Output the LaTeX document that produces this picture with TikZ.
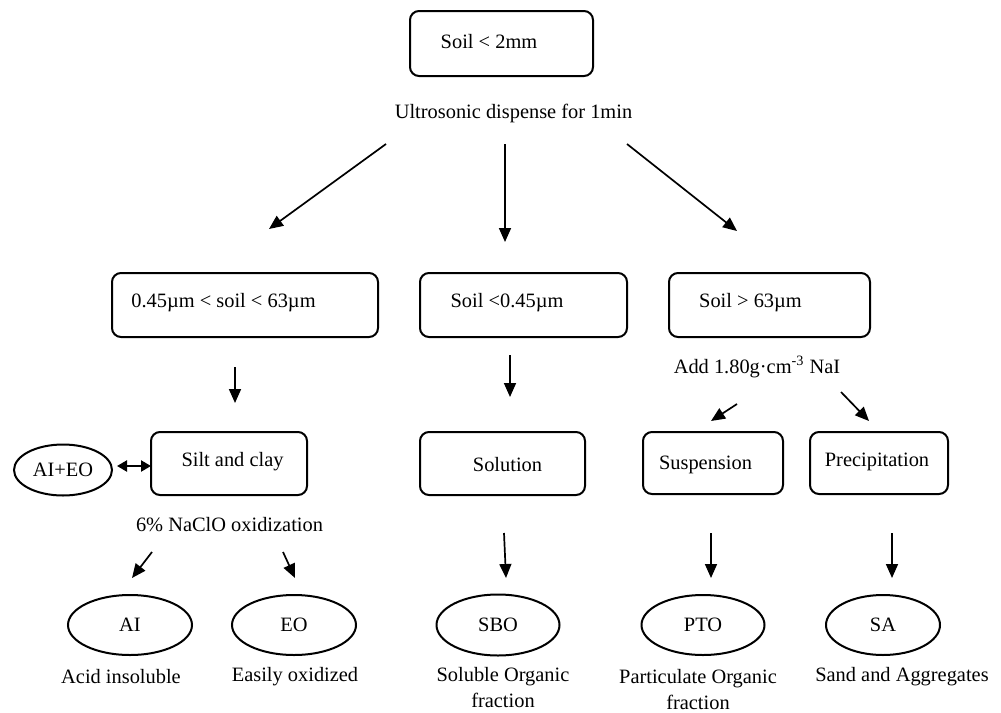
\documentclass[tikz,border=0pt]{standalone}
\usepackage{fontspec}
\setmainfont{Liberation Serif}
\usetikzlibrary{arrows.meta,shapes.geometric}
\begin{document}
\begin{tikzpicture}[x=0.5pt,y=-0.5pt,
  every node/.style={font=\fontsize{10.2}{13}\selectfont},
  box/.style={draw,line width=1pt,rounded corners=4.5pt,inner sep=0pt},
  oval/.style={draw,ellipse,line width=1pt,inner sep=0pt},
  txt/.style={inner sep=0pt,align=center},
  arr/.style={line width=0.85pt,-{Triangle[length=7pt,width=6pt]}},
  dbl/.style={line width=1.1pt,{Triangle[length=5pt,width=5.5pt]}-{Triangle[length=5pt,width=5.5pt]}}]
\useasboundingbox (0,0) rectangle (1001,712);
% boxes
\node[box,minimum width=91.5pt,minimum height=32.5pt] (top) at (501.5,43.5) {};
\node[txt] (topt) at (489,42) {Soil < 2mm};
\node[txt] (ultro) at (513.5,113) {Ultrosonic dispense for 1min};
\node[box,minimum width=133pt,minimum height=32pt] (mid) at (245,305) {};
\node[txt] (midt) at (223.5,303) {0.45µm < soil < 63µm};
\node[box,minimum width=103.5pt,minimum height=32pt] (fine) at (523.5,305) {};
\node[txt] (finet) at (507,303) {Soil <0.45µm};
\node[box,minimum width=100.5pt,minimum height=32pt] (coarse) at (769.5,305) {};
\node[txt] (coarset) at (750.5,303) {Soil > 63µm};
\node[txt] (nai) at (757,367) {Add 1.80g·cm\textsuperscript{-3} NaI};
\node[box,minimum width=78pt,minimum height=31.5pt] (silt) at (229,463.5) {};
\node[txt] (siltt) at (232.5,462) {Silt and clay};
\node[oval,minimum width=49pt,minimum height=25.5pt] (aieo) at (63,470) {AI+EO};
\node[box,minimum width=82.5pt,minimum height=31.5pt] (sol) at (502.5,463.5) {};
\node[txt] (solt) at (507.5,465) {Solution};
\node[box,minimum width=70pt,minimum height=31pt] (susp) at (713,463) {};
\node[txt] (suspt) at (705.5,465) {Suspension};
\node[box,minimum width=69pt,minimum height=31pt] (prec) at (879,463) {};
\node[txt] (prect) at (877,462) {Precipitation};
\node[txt] (naclo) at (229.5,525) {6\% NaClO oxidization};
% ellipses
\node[oval,minimum width=62pt,minimum height=30pt] (ai) at (130,625) {AI};
\node[oval,minimum width=62pt,minimum height=30pt] (eo) at (294,625) {EO};
\node[oval,minimum width=61.5pt,minimum height=30.5pt] (sbo) at (498,625) {SBO};
\node[oval,minimum width=61.5pt,minimum height=30pt] (pto) at (703,625) {PTO};
\node[oval,minimum width=57pt,minimum height=30pt] (sa) at (883,625) {SA};
% labels
\node[txt] (ail) at (121,677) {Acid insoluble};
\node[txt] (eol) at (295,677) {Easily oxidized};
\node[txt] (sbol) at (503,688) {Soluble Organic\\fraction};
\node[txt] (ptol) at (698,690) {Particulate Organic\\fraction};
\node[txt] (sal) at (902,677) {Sand and Aggregates};
% arrow end points
\coordinate (u1) at (386,144); \coordinate (m1) at (269,229);
\coordinate (u2) at (505,144); \coordinate (f1) at (505,242);
\coordinate (u3) at (627,144); \coordinate (c1) at (737,231);
\coordinate (m2) at (235,367); \coordinate (s1) at (235,403);
\coordinate (f2) at (510,355); \coordinate (o1) at (510,397);
\coordinate (n1) at (737,404); \coordinate (p1) at (711,421);
\coordinate (n2) at (841,392); \coordinate (q1) at (869,421);
\coordinate (x1) at (152,552); \coordinate (x2) at (132,578);
\coordinate (y1) at (283,552); \coordinate (y2) at (295,578);
\coordinate (b1) at (504,533); \coordinate (b2) at (506,578);
\coordinate (c2) at (711,533); \coordinate (c3) at (711,578);
\coordinate (d1) at (892,533); \coordinate (d2) at (892,578);
\coordinate (e1) at (117,466); \coordinate (e2) at (151,466);
\draw[arr] (u1) -- (m1);
\draw[arr] (u2) -- (f1);
\draw[arr] (u3) -- (c1);
\draw[arr] (m2) -- (s1);
\draw[arr] (f2) -- (o1);
\draw[arr] (n1) -- (p1);
\draw[arr] (n2) -- (q1);
\draw[arr] (x1) -- (x2);
\draw[arr] (y1) -- (y2);
\draw[arr] (b1) -- (b2);
\draw[arr] (c2) -- (c3);
\draw[arr] (d1) -- (d2);
\draw[dbl] (e1) -- (e2);
\end{tikzpicture}
\end{document}
